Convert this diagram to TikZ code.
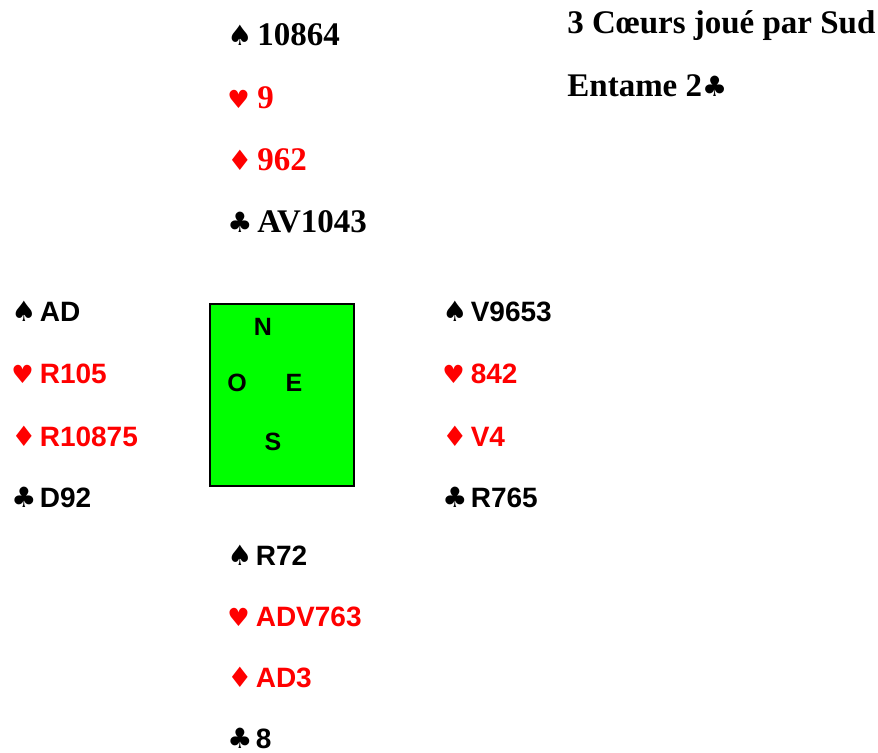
\documentclass[tikz,border=0pt]{standalone}
\usepackage{fontspec}
\setmainfont{Liberation Serif}
\newfontfamily\arialfont{Liberation Sans}
\newfontfamily\suitfont{DejaVu Sans}
\usetikzlibrary{positioning}

\definecolor{tapis}{RGB}{0,255,0}

\newcommand{\suitglyph}[2]{{\suitfont\fontsize{#1}{#1}\selectfont #2}}
\newcommand{\spadesym}{\suitglyph{14}{♠}}
\newcommand{\heartsym}{\suitglyph{12.5}{♥}}
\newcommand{\diamsym}{\suitglyph{14}{♦}}
\newcommand{\clubsym}{\suitglyph{14}{♣}}
\def\suitw{14pt}
\newcommand{\suitbox}[1]{\makebox[\suitw][l]{#1}}

\tikzset{
  hand/.style={anchor=base west, inner sep=0pt,
    font=\arialfont\bfseries\fontsize{14}{16}\selectfont\def\suitw{14.2pt}},
  serifhand/.style={anchor=base west, inner sep=0pt,
    font=\bfseries\fontsize{16.5}{18}\selectfont\def\suitw{15pt}},
  titre/.style={anchor=base west, inner sep=0pt,
    font=\bfseries\fontsize{16.5}{18}\selectfont},
  table/.style={draw, line width=0.9pt, fill=tapis, anchor=north west,
    minimum width=72pt, minimum height=91pt, inner sep=0pt},
  point/.style={anchor=base, inner sep=0pt,
    font=\arialfont\bfseries\fontsize{12.5}{14}\selectfont},
}

\begin{document}
\begin{tikzpicture}[x=0.5pt,y=-0.5pt]
\useasboundingbox (0,0) rectangle (878,753);

% contrat
\node[titre] (contrat) at (567,34) {3 Cœurs joué par Sud};
\node[titre] (entame) at (567,97) {Entame 2\clubsym};

% Nord
\foreach \suit/\cards/\col [count=\i from 0] in
  {\spadesym/10864/black, \heartsym/9/red, \diamsym/962/red, \clubsym/AV1043/black}
  \node[serifhand, text=\col] (nord\i) at (227,46+62.3*\i) {\suitbox{\suit}\cards};

% Ouest
\foreach \suit/\cards/\col [count=\i from 0] in
  {\spadesym/AD/black, \heartsym/R105/red, \diamsym/R10875/red, \clubsym/D92/black}
  \node[hand, text=\col] (ouest\i) at (11,322+62*\i) {\suitbox{\suit}\cards};

% Est
\foreach \suit/\cards/\col [count=\i from 0] in
  {\spadesym/V9653/black, \heartsym/842/red, \diamsym/V4/red, \clubsym/R765/black}
  \node[hand, text=\col] (est\i) at (442,322+62*\i) {\suitbox{\suit}\cards};

% Sud
\foreach \suit/\cards/\col [count=\i from 0] in
  {\spadesym/R72/black, \heartsym/ADV763/red, \diamsym/AD3/red, \clubsym/8/black}
  \node[hand, text=\col] (sud\i) at (227,565+61*\i) {\suitbox{\suit}\cards};

% table
\node[table] (jeu) at (209,303) {};
\node[point] (N) at (263,336) {N};
\node[point] (O) at (237,392) {O};
\node[point] (E) at (294,392) {E};
\node[point] (S) at (273,451) {S};
\end{tikzpicture}
\end{document}
